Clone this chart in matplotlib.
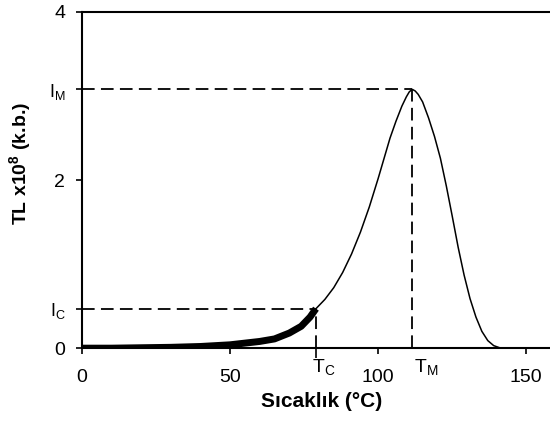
import matplotlib
matplotlib.use("Agg")
import matplotlib.pyplot as plt
from matplotlib.transforms import blended_transform_factory

plt.rcParams['font.family'] = ['Liberation Sans', 'DejaVu Sans']
plt.rcParams['mathtext.fontset'] = 'custom'
plt.rcParams['mathtext.rm'] = 'Liberation Sans'
plt.rcParams['mathtext.it'] = 'Liberation Sans'
plt.rcParams['mathtext.bf'] = 'Liberation Sans:bold'

# --------- glow curve ---------
T_low = [0, 10, 20, 30, 40, 50, 60, 65, 70, 74, 77, 79]
I_low = [0.0, 0.0, 0.005, 0.01, 0.02, 0.04, 0.08, 0.11, 0.18, 0.26, 0.37, 0.47]

T_high = [79, 82, 85, 88, 91, 94, 97, 100, 102, 104, 106, 108, 109.5, 110.5,
          111.5, 112.5, 113.5, 115, 117, 119, 121, 123, 125, 127, 129, 131,
          133, 135, 137, 139, 141, 143, 160]
I_high = [0.47, 0.58, 0.72, 0.90, 1.12, 1.38, 1.68, 2.02, 2.26, 2.50, 2.70,
          2.88, 2.99, 3.05, 3.08, 3.06, 3.02, 2.93, 2.74, 2.52, 2.26, 1.93,
          1.57, 1.20, 0.87, 0.59, 0.37, 0.20, 0.09, 0.03, 0.005, 0.0, 0.0]

T_C, I_C = 79, 0.47
T_M, I_M = 111.5, 3.08

x_ticks = [0, 50, 100, 150]
y_ticks = [0, I_C, 2, I_M, 4]
y_labels = ['0', r'I$_\mathregular{C}$', '2', r'I$_\mathregular{M}$', '4']

fig = plt.figure(figsize=(5.5, 4.21), dpi=100)
ax = fig.add_axes([0.149, 0.173, 0.851, 0.7985])

# --------- curves ---------
ax.plot(T_high, I_high, color='black', lw=1.1, zorder=3)
ax.plot(T_low, I_low, color='black', lw=5, solid_capstyle='butt', zorder=4)

# --------- guide lines ---------
dash = (0, (7, 3.5))
ax.plot([0, T_C], [I_C, I_C], color='black', lw=1.3, linestyle=dash)
ax.plot([T_C, T_C], [0, I_C], color='black', lw=1.3, linestyle=dash)
ax.plot([0, T_M], [I_M, I_M], color='black', lw=1.3, linestyle=dash)
ax.plot([T_M, T_M], [0, I_M], color='black', lw=1.3, linestyle=dash)

ax.set_xlim(0, 158)
ax.set_ylim(0, 4)
ax.spines['right'].set_visible(False)
for s in ['left', 'bottom', 'top']:
    ax.spines[s].set_linewidth(1.5)

ax.set_xticks(x_ticks)
ax.set_xticklabels([str(v) for v in x_ticks], fontsize=14)
ax.set_xticks([T_C], minor=True)
ax.tick_params(axis='x', which='minor', length=7, width=1.2)
ax.tick_params(axis='x', which='major', length=4, width=1.2, pad=11)
ax.set_yticks(y_ticks)
ax.set_yticklabels(y_labels, fontsize=14)
for lab in ax.get_yticklabels():
    if lab.get_text().startswith('I'):
        lab.set_fontsize(13)
ax.tick_params(axis='y', which='major', length=4, width=1.2, pad=8)

tr = blended_transform_factory(ax.transData, ax.transAxes)
ax.text(T_C - 1.2, -0.025, r'T$_\mathregular{C}$', transform=tr, ha='left', va='top',
        fontsize=14)
ax.text(T_M + 0.7, -0.025, r'T$_\mathregular{M}$', transform=tr, ha='left', va='top',
        fontsize=14)

ax.set_xlabel('Sıcaklık (°C)', fontsize=15, fontweight='bold')
ax.xaxis.set_label_coords(0.513, -0.13)
ax.set_ylabel(r'TL x10$^{\mathbf{8}}$ (k.b.)', fontsize=14, fontweight='bold')
ax.yaxis.set_label_coords(-0.105, 0.55)

fig.savefig('out.png', dpi=100)
